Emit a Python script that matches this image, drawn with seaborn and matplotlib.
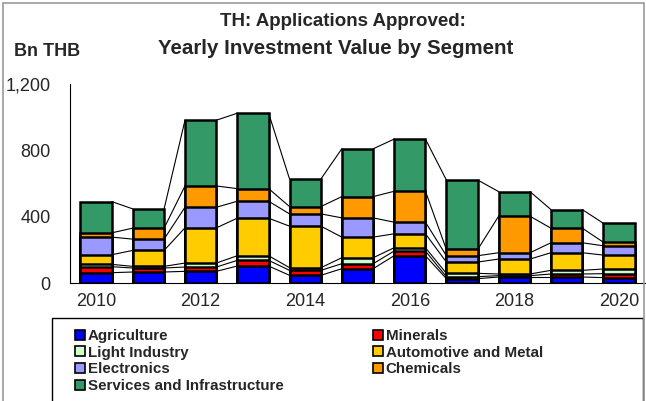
import numpy as np
import matplotlib
matplotlib.use("Agg")
import matplotlib.pyplot as plt
from matplotlib.patches import Rectangle, Patch
import seaborn as sns

# --- DATOS (Bn THB) ---
years = [str(y) for y in range(2010, 2021)]
agriculture = [64, 68, 72, 104, 48, 88, 166, 28, 38, 38, 34]
minerals = [36, 24, 26, 34, 30, 30, 28, 12, 8, 18, 24]
light_industry = [14, 10, 24, 28, 16, 36, 20, 20, 10, 22, 28]
automotive = [58, 96, 212, 226, 250, 124, 84, 68, 90, 106, 84]
electronics = [106, 68, 124, 102, 74, 116, 70, 38, 38, 60, 56]
chemicals = [26, 66, 128, 76, 44, 128, 186, 38, 220, 88, 22]
services = [188, 116, 396, 454, 166, 288, 314, 418, 148, 112, 114]

segments = ["Agriculture", "Minerals", "Light Industry", "Automotive and Metal",
            "Electronics", "Chemicals", "Services and Infrastructure"]
values = [agriculture, minerals, light_industry, automotive, electronics, chemicals, services]
colors = ["#0000FF", "#FF0000", "#CCFFCC", "#FFCC00", "#9999FF", "#FF9900", "#339966"]

sns.set_style("white")
plt.rcParams['font.family'] = ['Liberation Sans', 'DejaVu Sans']

fig = plt.figure(figsize=(6.46, 4.01), dpi=100)
ax = fig.add_axes([70 / 646, 1 - 283.3 / 401, 575 / 646, 199.3 / 401])

cum = np.cumsum(np.array(values), axis=0)
bar_w = 0.6

# barras apiladas: se dibuja del total hacia abajo
for k in range(len(segments) - 1, -1, -1):
    sns.barplot(x=years, y=cum[k], color=colors[k], width=bar_w,
                edgecolor="black", linewidth=1.8, saturation=1, ax=ax, zorder=3)

# lineas de serie entre barras
x = np.arange(len(years))
for k in range(len(segments)):
    for i in range(len(years) - 1):
        ax.plot([x[i] + bar_w / 2, x[i + 1] - bar_w / 2], [cum[k][i], cum[k][i + 1]],
                color="black", linewidth=0.8, zorder=2)

ax.set_xlim(-0.5, len(years) - 0.5)
ax.set_ylim(0, 1200)
ax.set_yticks([0, 400, 800, 1200])
ax.set_yticklabels(["0", "400", "800", "1,200"])
ax.set_xticks(np.arange(-0.5, len(years), 1))
ax.set_xticklabels([])
ax.set_xticks(x[::2], minor=True)
ax.set_xticklabels(years[::2], minor=True)
ax.tick_params(axis="x", which="major", length=5, width=0.8, direction="out", color="black")
ax.tick_params(axis="x", which="minor", length=0, pad=7, labelsize=13)
ax.tick_params(axis="y", length=5, width=0.8, direction="out", color="black", pad=9, labelsize=13)
ax.set_xlabel("")
ax.set_ylabel("")
sns.despine(ax=ax)
for s in ["left", "bottom"]:
    ax.spines[s].set_color("black")
    ax.spines[s].set_linewidth(0.8)

fig.text(343 / 646, 1 - 22 / 401, "TH: Applications Approved:", ha="center", va="center",
         fontsize=13.5, fontweight="bold")
fig.text(336 / 646, 1 - 48 / 401, "Yearly Investment Value by Segment", ha="center", va="center",
         fontsize=14.8, fontweight="bold")
fig.text(14 / 646, 1 - 52 / 401, "Bn THB", ha="left", va="center", fontsize=13, fontweight="bold")

# leyenda (orden por filas)
order = [0, 2, 4, 6, 1, 3, 5]
handles = [Patch(facecolor=colors[k], edgecolor="black", linewidth=1.2, label=segments[k]) for k in order]
fig.legend(handles=handles, ncol=2, loc="upper left", bbox_to_anchor=(75 / 646, 1 - 329 / 401),
           frameon=False, prop={"weight": "bold", "size": 10.9}, handlelength=0.65, handleheight=0.65,
           handletextpad=0.2, labelspacing=0.18, columnspacing=5.9, borderaxespad=0, borderpad=0)
fig.patches.append(Rectangle((52 / 646, -0.01), 591 / 646, 1 - 318 / 401 + 0.01,
                             transform=fig.transFigure, fill=False, edgecolor="black", linewidth=1.0))
# marco de la figura
fig.patches.append(Rectangle((3 / 646, -0.01), 641 / 646, 1 - 3 / 401 + 0.01,
                             transform=fig.transFigure, fill=False, edgecolor="#999999", linewidth=1.2))

fig.savefig("out.png", dpi=100)
